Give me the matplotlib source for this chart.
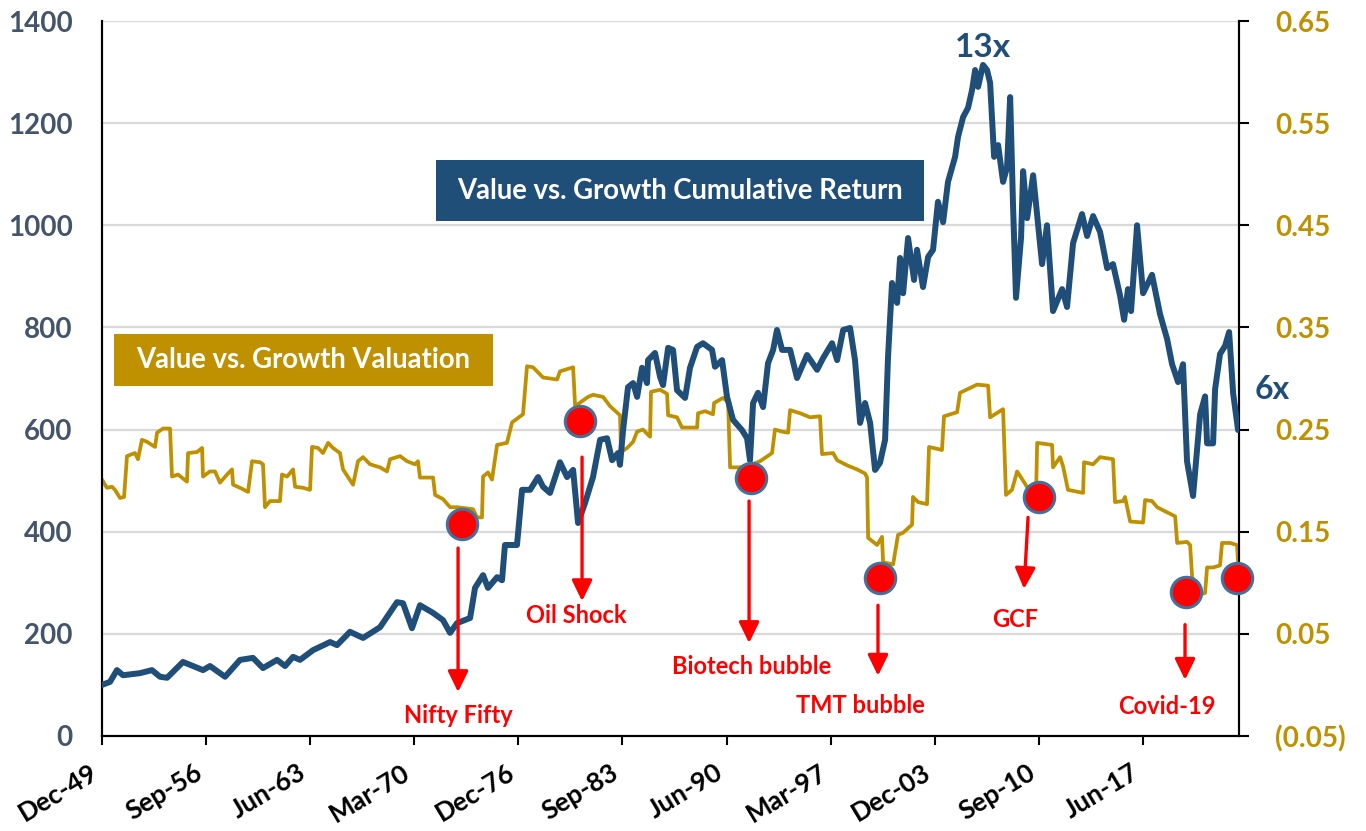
import matplotlib.pyplot as plt
from matplotlib.patches import Rectangle
from matplotlib.ticker import FuncFormatter


BLUE = "#1F4E79"
GOLD = "#BF9000"
SLATE = "#44546A"
RED = "#FF0000"

# Value vs. Growth cumulative return (left axis), decimal years
BLUE_YEARS = [
    1949.92, 1950.44, 1950.89, 1951.28, 1952.38, 1953.16, 1953.68, 1954.14, 1955.17, 1956.47,
    1956.92, 1957.90, 1958.87, 1959.71, 1960.36, 1961.27, 1961.79, 1962.31, 1962.76, 1963.60,
    1964.71, 1965.16, 1966.00, 1966.85, 1967.95, 1969.05, 1969.44, 1970.02, 1970.54, 1971.39,
    1972.03, 1972.49, 1972.94, 1973.79, 1974.11, 1974.63, 1974.95, 1975.54, 1975.86, 1976.05,
    1976.83, 1977.16, 1977.68, 1978.20, 1978.52, 1978.97, 1979.62, 1980.08, 1980.47, 1980.79,
    1981.24, 1981.76, 1982.22, 1982.67, 1983.00, 1983.38, 1983.51, 1983.71, 1984.03, 1984.36,
    1984.62, 1984.94, 1985.26, 1985.33, 1985.78, 1986.11, 1986.30, 1986.63, 1986.95, 1987.21,
    1987.73, 1988.05, 1988.51, 1988.89, 1989.48, 1989.67, 1990.13, 1990.45, 1990.84, 1991.42,
    1991.75, 1991.94, 1992.14, 1992.46, 1992.79, 1993.11, 1993.44, 1993.69, 1994.02, 1994.54,
    1994.99, 1995.64, 1996.29, 1996.68, 1997.26, 1997.59, 1997.98, 1998.43, 1998.75, 1999.08,
    1999.40, 1999.73, 2000.05, 2000.37, 2000.70, 2000.89, 2001.15, 2001.48, 2001.67, 2001.87,
    2002.19, 2002.58, 2002.77, 2003.16, 2003.49, 2003.81, 2004.13, 2004.46, 2004.78, 2005.24,
    2005.43, 2005.76, 2006.08, 2006.34, 2006.54, 2006.73, 2007.05, 2007.31, 2007.51, 2007.77,
    2008.03, 2008.35, 2008.61, 2008.81, 2009.00, 2009.19, 2009.52, 2009.65, 2009.91, 2010.30,
    2010.88, 2011.20, 2011.59, 2012.18, 2012.50, 2012.89, 2013.47, 2013.80, 2014.19, 2014.64,
    2015.10, 2015.48, 2015.94, 2016.20, 2016.45, 2016.65, 2017.04, 2017.43, 2018.01, 2018.53,
    2018.99, 2019.31, 2019.70, 2020.02, 2020.28, 2020.67, 2021.13, 2021.45, 2021.58, 2021.97,
    2022.10, 2022.42, 2022.75, 2023.01, 2023.27, 2023.59,
]
BLUE_VALUES = [
    100, 106, 129, 119, 123, 129, 116, 114, 145, 129,
    137, 116, 149, 153, 133, 149, 137, 155, 149, 168,
    184, 178, 204, 192, 213, 262, 260, 211, 256, 241,
    227, 202, 221, 231, 290, 315, 290, 311, 305, 374,
    374, 482, 482, 507, 488, 476, 536, 507, 521, 417,
    456, 507, 580, 583, 540, 554, 531, 599, 683, 691,
    664, 721, 691, 736, 750, 703, 687, 760, 756, 677,
    662, 721, 762, 769, 756, 723, 736, 664, 619, 599,
    583, 540, 652, 672, 644, 730, 756, 795, 756, 756,
    701, 746, 717, 740, 769, 736, 795, 799, 736, 613,
    652, 613, 521, 535, 580, 742, 887, 848, 936, 867,
    975, 893, 952, 879, 938, 952, 1046, 1006, 1085, 1134,
    1173, 1212, 1230, 1265, 1304, 1271, 1314, 1304, 1279, 1134,
    1157, 1085, 1114, 1251, 1036, 858, 977, 1106, 1014, 1098,
    924, 1000, 832, 875, 840, 965, 1022, 979, 1018, 987,
    916, 924, 862, 815, 875, 832, 1000, 867, 903, 826,
    777, 728, 693, 728, 538, 470, 630, 665, 573, 573,
    679, 748, 764, 791, 671, 599,
]

# Value vs. Growth valuation (right axis)
GOLD_YEARS = [
    1949.92, 1950.24, 1950.57, 1950.76, 1951.09, 1951.35, 1951.54, 1951.87, 1952.06, 1952.25,
    1952.51, 1952.84, 1953.16, 1953.36, 1953.49, 1953.88, 1954.33, 1954.46, 1954.85, 1955.43,
    1955.50, 1956.08, 1956.41, 1956.47, 1956.92, 1957.25, 1957.57, 1958.03, 1958.35, 1958.42,
    1958.87, 1959.39, 1959.65, 1960.17, 1960.36, 1960.49, 1960.81, 1961.46, 1961.59, 1961.92,
    1962.31, 1962.44, 1962.96, 1963.41, 1963.54, 1963.93, 1964.25, 1964.58, 1964.90, 1965.35,
    1965.55, 1966.20, 1966.52, 1966.85, 1967.30, 1967.95, 1968.40, 1968.60, 1969.25, 1969.70,
    1970.22, 1970.41, 1970.54, 1971.39, 1971.52, 1972.03, 1972.49, 1972.94, 1973.98, 1974.24,
    1974.56, 1974.63, 1974.95, 1975.21, 1975.54, 1976.18, 1976.51, 1977.22, 1977.48, 1977.87,
    1978.52, 1979.43, 1979.62, 1980.47, 1980.60, 1981.44, 1981.76, 1982.41, 1982.86, 1983.51,
    1983.58, 1983.97, 1984.36, 1984.62, 1985.00, 1985.46, 1985.52, 1986.11, 1986.56, 1986.63,
    1987.21, 1987.53, 1988.51, 1988.57, 1989.03, 1989.54, 1989.61, 1990.19, 1990.52, 1990.65,
    1991.30, 1991.94, 1992.59, 1993.37, 1993.56, 1994.02, 1994.41, 1994.54, 1995.19, 1995.83,
    1996.48, 1996.61, 1997.33, 1997.59, 1998.23, 1998.88, 1999.40, 1999.53, 1999.60, 2000.18,
    2000.50, 2000.57, 2001.22, 2001.54, 2001.87, 2002.45, 2002.51, 2002.84, 2003.42, 2003.55,
    2004.39, 2004.52, 2005.37, 2005.56, 2006.66, 2007.38, 2007.51, 2008.35, 2008.54, 2008.93,
    2009.26, 2009.65, 2010.10, 2010.49, 2010.56, 2011.53, 2011.59, 2012.05, 2012.24, 2012.56,
    2013.54, 2013.60, 2014.19, 2014.64, 2015.48, 2015.61, 2016.13, 2016.26, 2016.59, 2017.43,
    2017.56, 2018.01, 2018.34, 2018.86, 2019.51, 2019.64, 2020.28, 2020.48, 2020.61, 2020.93,
    2021.45, 2021.58, 2021.97, 2022.42, 2022.55, 2023.07, 2023.52, 2023.59,
]
GOLD_VALUES = [
    0.201, 0.193, 0.194, 0.191, 0.183, 0.184, 0.224, 0.226, 0.227, 0.221,
    0.240, 0.238, 0.235, 0.233, 0.247, 0.251, 0.251, 0.204, 0.206, 0.199,
    0.227, 0.228, 0.232, 0.204, 0.209, 0.209, 0.198, 0.206, 0.211, 0.196,
    0.193, 0.189, 0.219, 0.218, 0.216, 0.174, 0.180, 0.180, 0.206, 0.204,
    0.211, 0.194, 0.193, 0.191, 0.233, 0.232, 0.227, 0.237, 0.232, 0.227,
    0.211, 0.196, 0.219, 0.223, 0.216, 0.213, 0.209, 0.221, 0.224, 0.219,
    0.216, 0.219, 0.203, 0.203, 0.186, 0.182, 0.174, 0.174, 0.172, 0.164,
    0.164, 0.204, 0.208, 0.201, 0.235, 0.237, 0.257, 0.265, 0.312, 0.311,
    0.301, 0.299, 0.307, 0.311, 0.273, 0.282, 0.284, 0.282, 0.273, 0.264,
    0.228, 0.232, 0.238, 0.248, 0.250, 0.243, 0.287, 0.289, 0.285, 0.264,
    0.262, 0.252, 0.252, 0.266, 0.268, 0.265, 0.276, 0.281, 0.277, 0.213,
    0.213, 0.215, 0.219, 0.227, 0.250, 0.248, 0.247, 0.269, 0.266, 0.262,
    0.263, 0.226, 0.227, 0.220, 0.215, 0.211, 0.207, 0.203, 0.144, 0.137,
    0.145, 0.120, 0.118, 0.147, 0.149, 0.157, 0.184, 0.179, 0.177, 0.233,
    0.230, 0.263, 0.267, 0.286, 0.294, 0.293, 0.262, 0.270, 0.186, 0.191,
    0.209, 0.200, 0.189, 0.186, 0.237, 0.235, 0.213, 0.223, 0.214, 0.191,
    0.188, 0.218, 0.216, 0.223, 0.221, 0.179, 0.180, 0.184, 0.160, 0.159,
    0.181, 0.180, 0.174, 0.170, 0.165, 0.139, 0.140, 0.137, 0.106, 0.088,
    0.090, 0.115, 0.115, 0.117, 0.139, 0.139, 0.137, 0.120,
]

X_TICKS = [1949.92, 1956.67, 1963.42, 1970.17, 1976.92, 1983.67, 1990.42, 1997.17, 2003.92, 2010.67, 2017.42]
X_LABELS = ["Dec-49", "Sep-56", "Jun-63", "Mar-70", "Dec-76", "Sep-83", "Jun-90", "Mar-97", "Dec-03", "Sep-10", "Jun-17"]
LEFT_TICKS = [0, 200, 400, 600, 800, 1000, 1200, 1400]
RIGHT_TICKS = [-0.05, 0.05, 0.15, 0.25, 0.35, 0.45, 0.55, 0.65]

# event markers on the valuation line
EVENT_NAMES = ["Nifty Fifty", "Oil Shock", "Biotech bubble", "TMT bubble", "GCF", "Covid-19"]
DOT_YEARS = [1973.27, 1980.92, 1992.01, 2000.37, 2010.68, 2020.22, 2023.52]
DOT_VALUES = [0.158, 0.258, 0.203, 0.105, 0.184, 0.091, 0.105]
ARROW_FROM = [(1973.01, 0.134), (1981.05, 0.223), (1991.88, 0.180), (2000.24, 0.078), (2009.97, 0.164), (2020.15, 0.059)]
ARROW_TO = [(1973.01, -0.007), (1981.05, 0.082), (1991.88, 0.041), (2000.24, 0.009), (2009.71, 0.094), (2020.15, 0.005)]
LABEL_AT = [(1973.01, -0.030), (1980.66, 0.068), (1992.07, 0.018), (1999.08, -0.020), (2009.13, 0.064), (2018.98, -0.021)]


def fmt_right(v, pos):
    if v < 0:
        return f"({abs(v):.2f})"
    return f"{v:.2f}"


def main():
    plt.rcParams["font.family"] = ["Lato", "DejaVu Sans"]
    plt.rcParams["font.weight"] = "bold"

    fig = plt.figure(figsize=(13.66, 8.31), dpi=100)
    fig.patch.set_facecolor("white")
    ax = fig.add_axes([102 / 1366, 1 - 736 / 831, (1239 - 102) / 1366, (736 - 21) / 831])
    ax2 = ax.twinx()
    ax.set_zorder(2)
    ax2.set_zorder(1)
    ax.patch.set_visible(False)

    ax.set_xlim(1949.92, 2023.65)
    ax.set_ylim(0, 1400)
    ax2.set_ylim(-0.05, 0.65)

    # grid on the lower axes so lines sit on top
    ax2.set_yticks(RIGHT_TICKS)
    ax2.yaxis.set_major_formatter(FuncFormatter(fmt_right))
    ax2.grid(axis="y", color="#D9D9D9", lw=1.6, zorder=0)
    ax2.set_axisbelow(True)

    ax2.plot(GOLD_YEARS, GOLD_VALUES, color=GOLD, lw=2.7, solid_joinstyle="round", zorder=3)
    ax.plot(BLUE_YEARS, BLUE_VALUES, color=BLUE, lw=4.3, solid_joinstyle="round",
            solid_capstyle="round", zorder=3)

    ax.set_yticks(LEFT_TICKS)
    ax.set_xticks(X_TICKS)
    ax.set_xticklabels(X_LABELS, rotation=31, ha="right")

    ax.tick_params(axis="y", length=0, pad=21, labelsize=20, labelcolor=SLATE)
    ax.tick_params(axis="x", direction="out", length=6.5, width=1.5, pad=11, labelsize=19, colors="black")
    ax2.tick_params(axis="y", direction="out", length=7, width=1.5, pad=19, labelsize=20, labelcolor=GOLD)
    for t in ax.get_yticklabels() + ax.get_xticklabels() + ax2.get_yticklabels():
        t.set_fontweight("bold")

    for a in (ax, ax2):
        a.spines["top"].set_visible(False)
        for s in ("left", "right", "bottom"):
            a.spines[s].set_color("black")
            a.spines[s].set_linewidth(1.5)

    # event arrows and labels (valuation axis coordinates, drawn on the top axes)
    for name, start, end, lab in zip(EVENT_NAMES, ARROW_FROM, ARROW_TO, LABEL_AT):
        ax.annotate(
            "",
            xy=end,
            xytext=start,
            xycoords=ax2.transData,
            textcoords=ax2.transData,
            arrowprops=dict(
                arrowstyle="-|>,head_length=0.45,head_width=0.22",
                color=RED,
                lw=2.4,
                mutation_scale=28,
                shrinkA=0,
                shrinkB=0,
            ),
            zorder=5,
        )
        ax.text(lab[0], lab[1], name, transform=ax2.transData, ha="center", va="center",
                color=RED, fontsize=17, fontweight="bold", zorder=6)

    ax.scatter(DOT_YEARS, DOT_VALUES, s=480, color=RED, edgecolor="#41719C", linewidth=2.2,
               transform=ax2.transData, zorder=7, clip_on=False)

    ax.text(2007.05, 1349, "13x", ha="center", va="center", color=BLUE, fontsize=24,
            fontweight="bold", zorder=6)
    ax.text(2025.79, 679, "6x", ha="center", va="center", color=BLUE, fontsize=23,
            fontweight="bold", zorder=6, clip_on=False)

    # label boxes
    fig.patches.append(Rectangle((436 / 1366, 1 - 221 / 831), 488 / 1366, 61 / 831,
                                 transform=fig.transFigure, facecolor=BLUE, edgecolor="none", zorder=10))
    fig.text(680 / 1366, 1 - 191 / 831, "Value vs. Growth Cumulative Return", ha="center", va="center",
             color="white", fontsize=19.8, fontweight="bold", zorder=11)
    fig.patches.append(Rectangle((114 / 1366, 1 - 386 / 831), 379 / 1366, 52 / 831,
                                 transform=fig.transFigure, facecolor=GOLD, edgecolor="none", zorder=10))
    fig.text(303 / 1366, 1 - 360 / 831, "Value vs. Growth Valuation", ha="center", va="center",
             color="white", fontsize=19.8, fontweight="bold", zorder=11)

    fig.savefig("out.png", dpi=100)
    plt.close(fig)


if __name__ == "__main__":
    main()
